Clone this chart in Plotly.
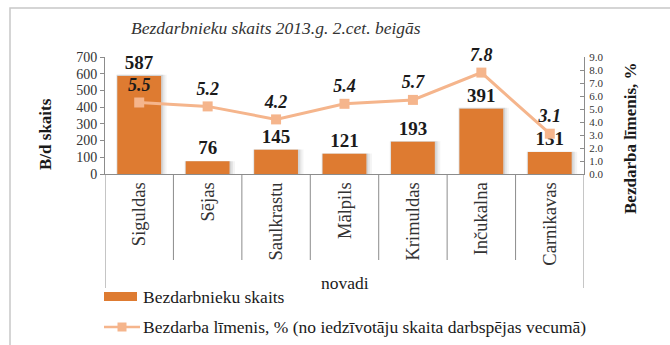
import plotly.graph_objects as go

# Counties (novadi) and their figures at the end of Q2 2013
novadi = ["Siguldas", "Sējas", "Saulkrastu", "Mālpils", "Krimuldas", "Inčukalna", "Carnikavas"]
bezdarbnieki = [587, 76, 145, 121, 193, 391, 131]
bezdarba_limenis = [5.5, 5.2, 4.2, 5.4, 5.7, 7.8, 3.1]

FONT = "Liberation Serif, Times New Roman, serif"
BAR_COLOR = "#DE7B31"
LINE_COLOR = "#F5B58C"
GRID_GRAY = "#8c8c8c"

# plot-area pixel box used to place decorations in paper coordinates
W, H = 670, 345
L, R, T, B = 105, 584, 57, 174


def px(x):
    return (x - L) / (R - L)


def py(y):
    return (B - y) / (B - T)


fig = go.Figure()

# soft drop shadow behind the columns
for w, off, alpha in [(0.74, -0.34, 0.06), (0.70, -0.33, 0.08), (0.67, -0.325, 0.10)]:
    fig.add_trace(go.Bar(
        x=novadi, y=[v * 1.012 for v in bezdarbnieki],
        marker=dict(color=f"rgba(60,60,60,{alpha})", line=dict(width=0)),
        width=w, offset=off, hoverinfo="skip", showlegend=False,
    ))

fig.add_trace(go.Bar(
    x=novadi, y=bezdarbnieki, name="Bezdarbnieku skaits",
    marker=dict(color=BAR_COLOR, line=dict(width=0)),
    width=0.64, offset=-0.32,
    text=bezdarbnieki, textposition="outside",
    textfont=dict(family=FONT, size=19, color="#1a1a1a", weight="bold"),
    cliponaxis=False, showlegend=False,
))

fig.add_trace(go.Scatter(
    x=novadi, y=bezdarba_limenis, yaxis="y2",
    name="Bezdarba līmenis, % (no iedzīvotāju skaita darbspējas vecumā)",
    mode="lines+markers+text",
    line=dict(color=LINE_COLOR, width=3),
    marker=dict(symbol="square", size=10, color=LINE_COLOR),
    text=[f"{v:.1f}" for v in bezdarba_limenis], textposition="top center",
    textfont=dict(family=FONT, size=18, color="#1a1a1a", weight="bold", style="italic"),
    cliponaxis=False, showlegend=False,
))

axis_common = dict(
    showgrid=False, zeroline=False, showline=True, linecolor=GRID_GRAY, linewidth=1,
    ticklen=4, tickcolor=GRID_GRAY,
)

fig.update_layout(
    width=W, height=H,
    margin=dict(l=L, r=W - R, t=T, b=H - B, pad=0),
    paper_bgcolor="white", plot_bgcolor="white",
    barmode="overlay",
    xaxis=dict(
        showgrid=False, zeroline=False, showline=True, linecolor=GRID_GRAY,
        ticks="", tickangle=-90,
        tickfont=dict(family=FONT, size=18.5, color="#333"),
        range=[-0.5, 6.5],
    ),
    yaxis=dict(range=[0, 700], dtick=100, ticks="outside",
               tickfont=dict(family=FONT, size=14, color="#333"), **axis_common),
    yaxis2=dict(range=[0, 9], dtick=1, tickformat=".1f", overlaying="y", side="right",
                ticks="inside", ticklabelstandoff=2,
                tickfont=dict(family=FONT, size=11, color="#333"), **axis_common),
    showlegend=False,
)

shapes = []
# category separators below the axis
for i in range(len(novadi) + 1):
    edge = i in (0, len(novadi))
    shapes.append(dict(
        type="line", xref="x", yref="paper",
        x0=i - 0.5, x1=i - 0.5, y0=0, y1=py(288) if edge else py(260),
        line=dict(color=GRID_GRAY, width=1),
    ))
# chart frame
shapes.append(dict(
    type="rect", xref="paper", yref="paper",
    x0=px(10), x1=px(700), y0=py(380), y1=py(8),
    line=dict(color="#c8c8c8", width=1.5), layer="below",
))
# legend glyphs
shapes.append(dict(
    type="rect", xref="paper", yref="paper",
    x0=px(104), x1=px(137), y0=py(301), y1=py(292),
    fillcolor=BAR_COLOR, line=dict(width=0),
))
shapes.append(dict(
    type="line", xref="paper", yref="paper",
    x0=px(104), x1=px(140), y0=py(327), y1=py(327),
    line=dict(color=LINE_COLOR, width=2.5),
))
shapes.append(dict(
    type="rect", xref="paper", yref="paper",
    x0=px(117.5), x1=px(126.5), y0=py(331.5), y1=py(322.5),
    fillcolor=LINE_COLOR, line=dict(width=0),
))
fig.update_layout(shapes=shapes)

annotations = [
    dict(text="<i>Bezdarbnieku skaits 2013.g. 2.cet. beigās</i>", x=px(276), y=py(28),
         font=dict(family=FONT, size=17.5, color="#333")),
    dict(text="<b>B/d skaits</b>", x=px(45), y=py(134), textangle=-90,
         font=dict(family=FONT, size=17, color="#1a1a1a")),
    dict(text="<b>Bezdarba līmenis, %</b>", x=px(630), y=py(138), textangle=-90,
         font=dict(family=FONT, size=17, color="#1a1a1a")),
    dict(text="novadi", x=px(345), y=py(283),
         font=dict(family=FONT, size=17.5, color="#1a1a1a")),
    dict(text="Bezdarbnieku skaits", x=px(141), y=py(297), xanchor="left",
         font=dict(family=FONT, size=17.5, color="#1a1a1a")),
    dict(text="Bezdarba līmenis, % (no iedzīvotāju skaita darbspējas vecumā)",
         x=px(141), y=py(327), xanchor="left",
         font=dict(family=FONT, size=17.5, color="#1a1a1a")),
]
for a in annotations:
    a.setdefault("xref", "paper")
    a.setdefault("yref", "paper")
    a.setdefault("showarrow", False)
    a.setdefault("xanchor", "center")
    a.setdefault("yanchor", "middle")
fig.update_layout(annotations=annotations)

fig.write_html("out.html")
